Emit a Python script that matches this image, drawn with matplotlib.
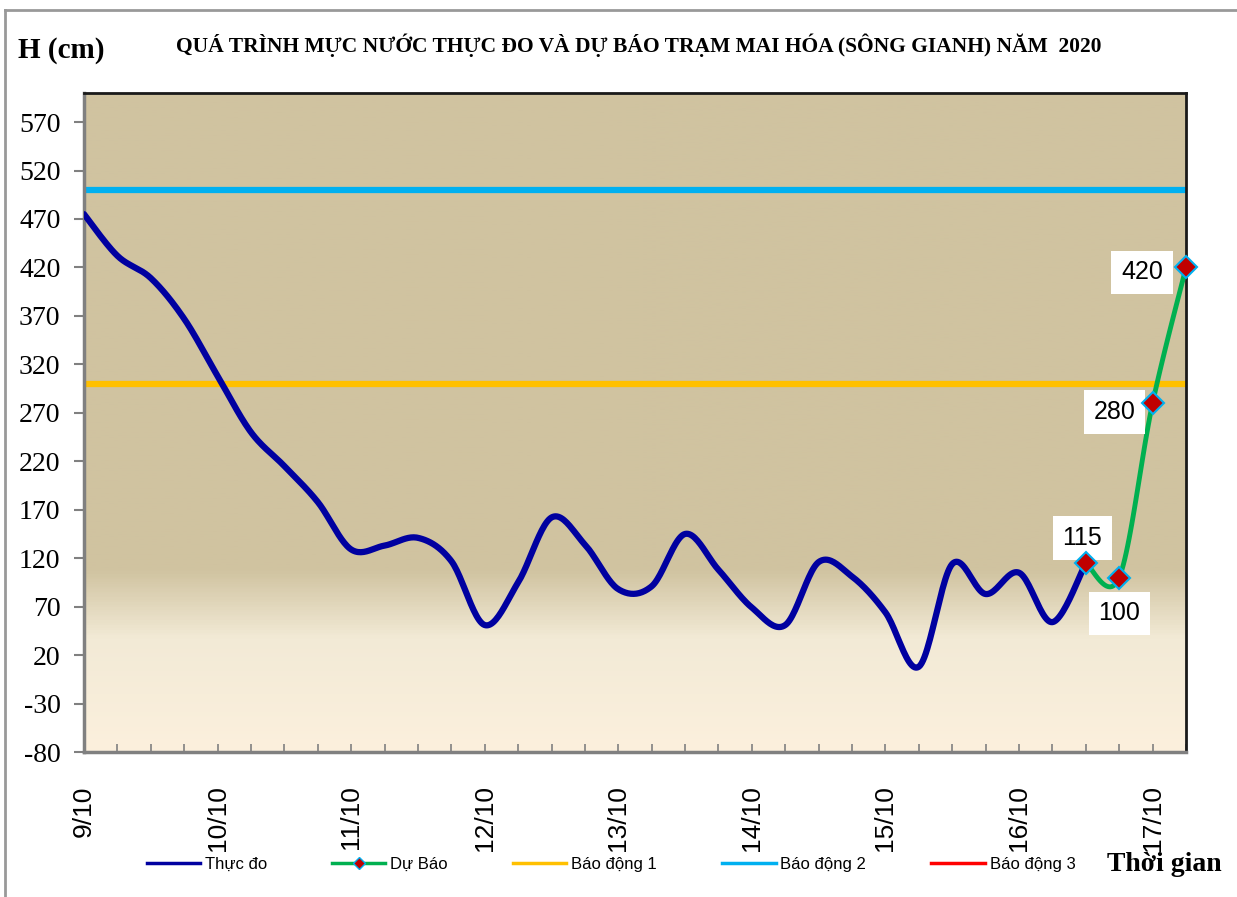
import numpy as np
import matplotlib
matplotlib.use('Agg')
import matplotlib.pyplot as plt
from matplotlib.lines import Line2D
from matplotlib.colors import LinearSegmentedColormap

# 6-hourly points from 9/10 to 17/10
day_labels = ['9/10', '10/10', '11/10', '12/10', '13/10', '14/10', '15/10', '16/10', '17/10']
observed = [475, 432, 409, 367, 308, 250, 215, 178, 129, 133, 141, 117, 51, 95, 162,
            134, 88, 91, 145, 108, 69, 51, 116, 101, 64, 8, 114, 83, 105, 54, 115]
forecast_idx = [30, 31, 32, 33]
forecast = [115, 100, 280, 420]
bd1, bd2, bd3 = 300, 500, 700

serif = 'Liberation Serif'
sans = 'Liberation Sans'
plt.rcParams['axes.unicode_minus'] = False


def smooth(xs, ys, n=24):
    # catmull-rom curve through the points, like excel's smoothed line
    xs = np.asarray(xs, float)
    ys = np.asarray(ys, float)
    px = np.concatenate([[xs[0]], xs, [xs[-1]]])
    py = np.concatenate([[ys[0]], ys, [ys[-1]]])
    ox, oy = [], []
    t = np.linspace(0, 1, n, endpoint=False)
    for i in range(1, len(px) - 2):
        for arr, out in ((px, ox), (py, oy)):
            p0, p1, p2, p3 = arr[i - 1], arr[i], arr[i + 1], arr[i + 2]
            out.extend(0.5 * (2 * p1 + (-p0 + p2) * t + (2 * p0 - 5 * p1 + 4 * p2 - p3) * t ** 2
                              + (-p0 + 3 * p1 - 3 * p2 + p3) * t ** 3))
    ox.append(xs[-1])
    oy.append(ys[-1])
    return np.array(ox), np.array(oy)


fig = plt.figure(figsize=(12.37, 8.97), dpi=100)
ax = fig.add_axes([84 / 1237, 1 - 752 / 897, (1186 - 84) / 1237, (752 - 93) / 897])

# background gradient of plot area
cmap = LinearSegmentedColormap.from_list('bg', [(0.0, '#FCF0DD'), (0.17, '#F2EAD6'),
                                               (0.275, '#D0C3A0'), (1.0, '#D0C3A0')])
grad = np.linspace(0, 1, 400).reshape(-1, 1)
ax.imshow(grad, cmap=cmap, aspect='auto', extent=[0, 1, 0, 1], origin='lower',
          transform=ax.transAxes, zorder=0)

n_pts = len(observed) + 3
ax.set_xlim(0, n_pts - 1)
ax.set_ylim(-80, 600)

ax.axhline(bd2, color='#00B0F0', lw=4.5, zorder=2)
ax.axhline(bd1, color='#FFC000', lw=4.5, zorder=2)
ax.axhline(bd3, color='#FF0000', lw=4.5, zorder=2)

sx, sy = smooth(range(len(observed)), observed)
ax.plot(sx, sy, color='#0000A0', lw=4.5, solid_capstyle='round', zorder=3)
fx, fy = smooth(forecast_idx, forecast)
ax.plot(fx, fy, color='#00B050', lw=3.5, zorder=4)
ax.plot(forecast_idx, forecast, ls='none', marker='D', ms=11, mfc='#C00000',
        mec='#00B0F0', mew=1.5, zorder=7, clip_on=False)

offsets = [(-0.1, 26), (0.0, -37), (-1.14, -9), (-1.32, -5)]
for xi, v, (dx, dy) in zip(forecast_idx, forecast, offsets):
    ax.text(xi + dx, v + dy, str(v), fontsize=18, family=sans, ha='center', va='center',
            bbox=dict(facecolor='white', edgecolor='none', pad=7), zorder=6)

ax.set_yticks(np.arange(-80, 571, 50))
ax.tick_params(axis='y', direction='out', length=7, color='#808080', width=1.5,
               labelsize=20, pad=10)
for lab in ax.get_yticklabels():
    lab.set_family(serif)

ax.set_xticks(range(n_pts))
ax.set_xticklabels([day_labels[i // 4] if i % 4 == 0 else '' for i in range(n_pts)],
                   rotation=90, fontsize=19, family=sans, va='top', ha='center')
ax.tick_params(axis='x', direction='in', length=6, color='#808080', width=1.2, pad=24)

ax.spines['left'].set_color('#808080')
ax.spines['bottom'].set_color('#808080')
ax.spines['left'].set_linewidth(2.5)
ax.spines['bottom'].set_linewidth(2.5)
ax.spines['top'].set_color('#1a1a1a')
ax.spines['right'].set_color('#1a1a1a')
ax.spines['top'].set_linewidth(2)
ax.spines['right'].set_linewidth(2)

fig.text(639 / 1237, 1 - 45 / 897,
         'QUÁ TRÌNH MỰC NƯỚC THỰC ĐO VÀ DỰ BÁO TRẠM MAI HÓA (SÔNG GIANH) NĂM  2020',
         ha='center', va='center', fontsize=15.5, fontweight='bold', family=serif)
fig.text(18 / 1237, 1 - 50 / 897, 'H (cm)', ha='left', va='center', fontsize=21,
         fontweight='bold', family=serif)
fig.text(1222 / 1237, 1 - 864 / 897, 'Thời gian', ha='right', va='center', fontsize=20,
         fontweight='bold', family=serif)

handles = [Line2D([], [], color='#0000A0', lw=2.5),
           Line2D([], [], color='#00B050', lw=2.5, marker='D', ms=6, mfc='#C00000',
                  mec='#00B0F0'),
           Line2D([], [], color='#FFC000', lw=2.5),
           Line2D([], [], color='#00B0F0', lw=2.5),
           Line2D([], [], color='#FF0000', lw=2.5)]
names = ['Thực đo', 'Dự Báo', 'Báo động 1', 'Báo động 2', 'Báo động 3']
fig.legend(handles, names, loc='center', bbox_to_anchor=(611 / 1237, 1 - 864 / 897),
           ncol=5, frameon=False, prop={'family': sans, 'size': 12},
           handlelength=3.2, columnspacing=3.9, handletextpad=0.3)

# outer frame of the chart
fig.add_artist(Line2D([5 / 1237, 5 / 1237], [0, 1 - 10 / 897], color='#999999', lw=2))
fig.add_artist(Line2D([5 / 1237, 1], [1 - 10 / 897, 1 - 10 / 897], color='#999999', lw=2))

fig.savefig('out.png', dpi=100)
